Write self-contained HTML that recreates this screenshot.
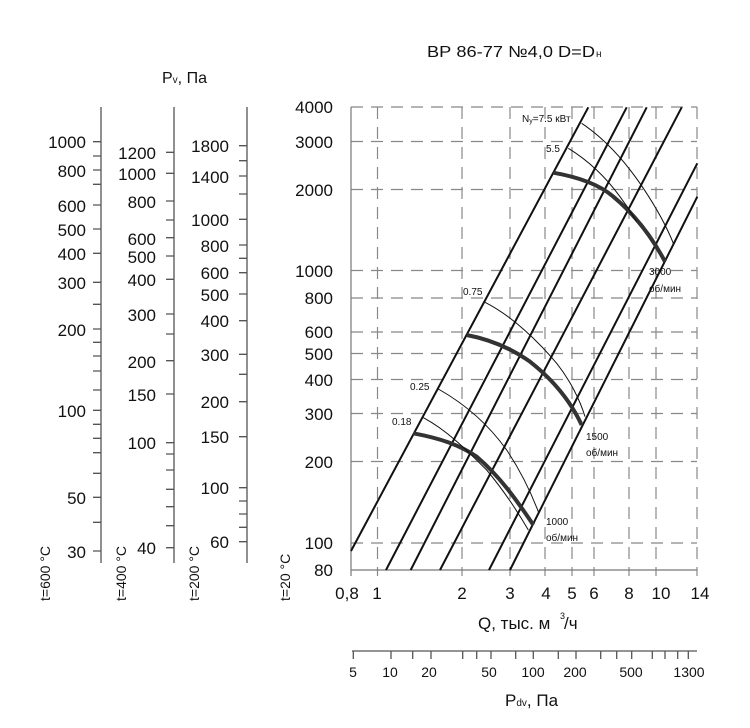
<!DOCTYPE html>
<html><head><meta charset="utf-8"><style>
html,body{margin:0;padding:0;background:#fff;width:750px;height:728px;overflow:hidden}
svg{display:block}
text{font-family:"Liberation Sans","DejaVu Sans",sans-serif;fill:#111}
</style></head><body>
<svg width="750" height="728" viewBox="0 0 750 728" xmlns="http://www.w3.org/2000/svg">
<g stroke="#888" stroke-width="1.2" stroke-dasharray="12,8">
<line x1="351" y1="107" x2="697" y2="107"/>
<line x1="351" y1="141.5" x2="697" y2="141.5"/>
<line x1="351" y1="189.5" x2="697" y2="189.5"/>
<line x1="351" y1="270.5" x2="697" y2="270.5"/>
<line x1="351" y1="298" x2="697" y2="298"/>
<line x1="351" y1="332" x2="697" y2="332"/>
<line x1="351" y1="353.5" x2="697" y2="353.5"/>
<line x1="351" y1="379.5" x2="697" y2="379.5"/>
<line x1="351" y1="413.5" x2="697" y2="413.5"/>
<line x1="351" y1="461.5" x2="697" y2="461.5"/>
<line x1="351" y1="543" x2="697" y2="543"/>
</g>
<g stroke="#888" stroke-width="1.2" stroke-dasharray="12,8">
<line x1="377.5" y1="107" x2="377.5" y2="576"/>
<line x1="462" y1="107" x2="462" y2="576"/>
<line x1="510" y1="107" x2="510" y2="576"/>
<line x1="545" y1="107" x2="545" y2="576"/>
<line x1="572" y1="107" x2="572" y2="576"/>
<line x1="594" y1="107" x2="594" y2="576"/>
<line x1="629" y1="107" x2="629" y2="576"/>
<line x1="656" y1="107" x2="656" y2="576"/>
<line x1="697" y1="107" x2="697" y2="576"/>
</g>
<line x1="351" y1="107" x2="351" y2="576" stroke="#777" stroke-width="1.2"/>
<line x1="351" y1="570" x2="697" y2="570" stroke="#777" stroke-width="1.2"/>

<g stroke="#111" stroke-width="2" fill="none">
<line x1="351" y1="551" x2="588.3" y2="107.3"/>
<line x1="386" y1="570" x2="626.7" y2="107.3"/>
<line x1="410.7" y1="570" x2="646.7" y2="107.3"/>
<line x1="440" y1="570" x2="681.7" y2="107.3"/>
<line x1="489" y1="570" x2="697.3" y2="163.3"/>
<line x1="510" y1="570" x2="697.3" y2="196.7"/>
</g>
<g transform="translate(280,90) scale(0.3333333)" fill="none" stroke="#111">
<path stroke-width="12" stroke="#333" d="M820,248 C900,262 960,285 1000,320 C1060,370 1110,430 1155,515"/>
<path stroke-width="12" stroke="#333" d="M560,735 C640,750 700,780 750,815 C820,870 870,930 905,1005"/>
<path stroke-width="12" stroke="#333" d="M400,1030 C480,1045 540,1065 590,1100 C660,1160 710,1230 760,1305"/>
<path stroke-width="3" d="M905,100 C980,150 1040,220 1090,295 C1130,355 1160,410 1180,460"/>
<path stroke-width="3" d="M865,175 C930,215 980,265 1020,320 C1050,360 1060,380 1070,395"/>
<path stroke-width="3" d="M615,637 C700,680 780,760 830,820 C870,870 900,930 915,980"/>
<path stroke-width="3" d="M475,897 C560,945 630,1010 680,1080 C720,1140 750,1200 775,1265"/>
<path stroke-width="3" d="M430,983 C500,1020 560,1080 620,1140 C670,1200 710,1260 745,1320"/>
</g>

<g font-size="17" text-anchor="end">
<text x="333" y="113">4000</text>
<text x="333" y="148">3000</text>
<text x="333" y="196">2000</text>
<text x="333" y="277">1000</text>
<text x="333" y="304">800</text>
<text x="333" y="338">600</text>
<text x="333" y="360">500</text>
<text x="333" y="386">400</text>
<text x="333" y="420">300</text>
<text x="333" y="468">200</text>
<text x="333" y="549">100</text>
<text x="333" y="576">80</text>
</g>
<g font-size="17" text-anchor="middle">
<text x="347" y="599">0,8</text>
<text x="377" y="599">1</text>
<text x="462" y="599">2</text>
<text x="510" y="599">3</text>
<text x="546" y="599">4</text>
<text x="572" y="599">5</text>
<text x="594" y="599">6</text>
<text x="629" y="599">8</text>
<text x="661" y="599">10</text>
<text x="700" y="599">14</text>
</g>
<text x="478" y="629" font-size="17">Q, тыс. м</text>
<text x="560" y="619" font-size="9">3</text>
<text x="564" y="629" font-size="17">/ч</text>

<g font-size="10">
<text x="522" y="122">N<tspan font-size="7" dy="1">у</tspan><tspan dy="-1">=7.5 кВт</tspan></text>
<text x="546" y="152">5.5</text>
<text x="463" y="295">0.75</text>
<text x="410" y="390">0.25</text>
<text x="392" y="425">0.18</text>
<text x="649" y="275">3000</text>
<text x="649" y="292">об/мин</text>
<text x="586" y="440">1500</text>
<text x="586" y="456">об/мин</text>
<text x="546" y="525">1000</text>
<text x="546" y="541">об/мин</text>
</g>

<text x="427" y="57" font-size="16" textLength="168" lengthAdjust="spacingAndGlyphs">ВР 86-77 №4,0   D=D</text>
<text x="596" y="57" font-size="10">н</text>
<text x="162" y="83" font-size="16">P<tspan font-size="10">v</tspan>, Па</text>

<g stroke="#555" stroke-width="1.3">
<line x1="101" y1="107" x2="101" y2="563"/>
<line x1="174" y1="107" x2="174" y2="563"/>
<line x1="247" y1="107" x2="247" y2="563"/>
</g>
<g stroke="#555" stroke-width="1.3">
<path d="M93,141.7H101M93,156H101M93,170H101M93,184.3H101M93,205H101M93,229H101M93,253.3H101M93,282.3H101M93,304.3H101M93,329H101M93,342.3H101M93,356H101M93,371H101M93,390H101M93,410.3H101M93,424.3H101M93,438.3H101M93,452.7H101M93,473.3H101M93,497.3H101M93,522.3H101M93,551H101"/>
<path d="M166,152.3H174M166,173.3H174M166,201H174M166,220H174M166,237.7H174M166,256H174M166,279.3H174M166,314H174M166,334H174M166,360.7H174M166,394H174M166,442.7H174M166,454H174M166,470H174M166,489.3H174M166,506.7H174M166,525.7H174M166,547.7H174"/>
<path d="M239,145.7H247M239,160.7H247M239,176H247M239,194H247M239,219.3H247M239,245H247M239,258.3H247M239,272.7H247M239,294H247M239,320.7H247M239,354.3H247M239,374.3H247M239,401.7H247M239,436.7H247M239,487.7H247M239,501H247M239,514H247M239,527.3H247M239,541.7H247"/>
</g>
<g font-size="17" text-anchor="end">
<text x="86" y="148">1000</text>
<text x="86" y="177">800</text>
<text x="86" y="212">600</text>
<text x="86" y="236">500</text>
<text x="86" y="260">400</text>
<text x="86" y="289">300</text>
<text x="86" y="336">200</text>
<text x="86" y="417">100</text>
<text x="86" y="504">50</text>
<text x="86" y="558">30</text>
<text x="156" y="159">1200</text>
<text x="156" y="180">1000</text>
<text x="156" y="208">800</text>
<text x="156" y="245">600</text>
<text x="156" y="263">500</text>
<text x="156" y="286">400</text>
<text x="156" y="321">300</text>
<text x="156" y="368">200</text>
<text x="156" y="401">150</text>
<text x="156" y="449">100</text>
<text x="156" y="554">40</text>
<text x="229" y="152">1800</text>
<text x="229" y="183">1400</text>
<text x="229" y="226">1000</text>
<text x="229" y="252">800</text>
<text x="229" y="279">600</text>
<text x="229" y="301">500</text>
<text x="229" y="327">400</text>
<text x="229" y="361">300</text>
<text x="229" y="408">200</text>
<text x="229" y="443">150</text>
<text x="229" y="494">100</text>
<text x="229" y="548">60</text>
</g>
<g font-size="14">
<text transform="translate(50,601) rotate(-90)">t=600 °C</text>
<text transform="translate(126,601) rotate(-90)">t=400 °C</text>
<text transform="translate(199,601) rotate(-90)">t=200 °C</text>
<text transform="translate(290,601) rotate(-90)">t=20 °C</text>
</g>

<line x1="352" y1="651" x2="697" y2="651" stroke="#555" stroke-width="1.3"/>
<path stroke="#555" stroke-width="1.3" d="M353.3,651V659M391,651V659M412.7,651V659M431,651V659M462.7,651V659M476.7,651V659M491,651V659M515.7,651V659M533.3,651V659M558.3,651V659M576,651V659M600.7,651V659M616.7,651V659M631.7,651V659M652.3,651V659M665,651V659M677.7,651V659M688.3,651V659"/>
<g font-size="14" text-anchor="middle">
<text x="353" y="677">5</text>
<text x="390" y="677">10</text>
<text x="429" y="677">20</text>
<text x="489" y="677">50</text>
<text x="533" y="677">100</text>
<text x="575" y="677">200</text>
<text x="631" y="677">500</text>
<text x="689" y="677">1300</text>
</g>
<text x="505" y="706" font-size="17">P<tspan font-size="10">dv</tspan>, Па</text>
</svg>
</body></html>
